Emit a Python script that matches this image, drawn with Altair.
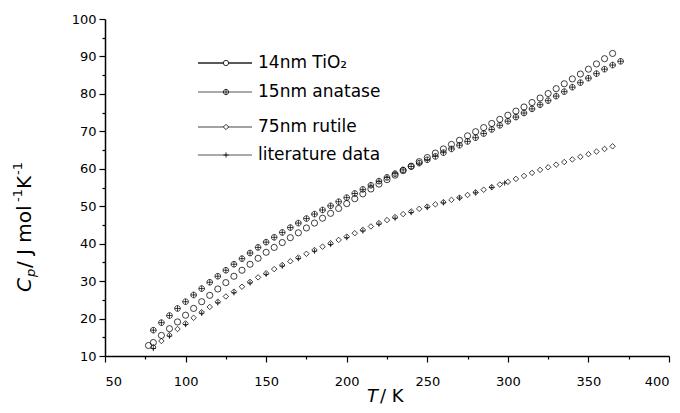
import altair as alt
import pandas as pd

# ---------------- data ----------------
t_14 = [77, 80, 85, 90, 95, 100, 105, 110, 115, 120, 125, 130, 135, 140, 145, 150,
        155, 160, 165, 170, 175, 180, 185, 190, 195, 200, 205, 210, 215, 220, 225,
        230, 235, 240, 245, 250, 255, 260, 265, 270, 275, 280, 285, 290, 295, 300,
        305, 310, 315, 320, 325, 330, 335, 340, 345, 350, 355, 360, 365]
cp_14 = [12.8, 13.6, 15.5, 17.3, 19.1, 20.9, 22.7, 24.5, 26.2, 27.9, 29.6, 31.3, 32.9,
         34.5, 36.1, 37.7, 39.0, 40.3, 41.6, 42.9, 44.2, 45.5, 46.8, 48.1, 49.4, 50.7,
         52.0, 53.3, 54.6, 55.9, 57.1, 58.3, 59.5, 60.7, 61.9, 63.0, 64.2, 65.3, 66.5,
         67.6, 68.8, 69.9, 71.0, 72.1, 73.2, 74.3, 75.4, 76.5, 77.7, 78.9, 80.1, 81.4,
         82.7, 84.0, 85.3, 86.6, 88.0, 89.4, 90.8]

t_15 = [80, 85, 90, 95, 100, 105, 110, 115, 120, 125, 130, 135, 140, 145, 150, 155,
        160, 165, 170, 175, 180, 185, 190, 195, 200, 205, 210, 215, 220, 225, 230,
        235, 240, 245, 250, 255, 260, 265, 270, 275, 280, 285, 290, 295, 300, 305,
        310, 315, 320, 325, 330, 335, 340, 345, 350, 355, 360, 365, 370]
cp_15 = [16.9, 18.9, 20.8, 22.7, 24.5, 26.3, 28.0, 29.7, 31.3, 32.9, 34.5, 36.0, 37.5,
         39.0, 40.4, 41.7, 43.0, 44.3, 45.5, 46.7, 47.9, 49.0, 50.1, 51.2, 52.3, 53.4,
         54.5, 55.6, 56.7, 57.7, 58.7, 59.7, 60.6, 61.5, 62.4, 63.3, 64.3, 65.3, 66.3,
         67.3, 68.3, 69.4, 70.5, 71.6, 72.7, 73.8, 74.9, 76.0, 77.1, 78.2, 79.4, 80.6,
         81.8, 83.0, 84.2, 85.4, 86.6, 87.7, 88.7]

t_75 = [80, 85, 90, 95, 100, 105, 110, 115, 120, 125, 130, 135, 140, 145, 150, 155,
        160, 165, 170, 175, 180, 185, 190, 195, 200, 205, 210, 215, 220, 225, 230,
        235, 240, 245, 250, 255, 260, 265, 270, 275, 280, 285, 290, 295, 300, 305,
        310, 315, 320, 325, 330, 335, 340, 345, 350, 355, 360, 365]
cp_75 = [12.4, 14.0, 15.6, 17.2, 18.7, 20.2, 21.7, 23.1, 24.5, 25.9, 27.2, 28.5, 29.8,
         31.0, 32.1, 33.2, 34.3, 35.3, 36.3, 37.3, 38.3, 39.2, 40.1, 41.0, 41.9, 42.8,
         43.7, 44.6, 45.5, 46.3, 47.1, 47.9, 48.6, 49.3, 49.9, 50.5, 51.1, 51.7, 52.3,
         53.0, 53.7, 54.4, 55.1, 55.8, 56.5, 57.3, 58.1, 58.9, 59.7, 60.4, 61.1, 61.8,
         62.5, 63.2, 63.9, 64.6, 65.3, 66.0]

t_lit = [80, 90, 100, 110, 120, 130, 140, 150, 160, 170, 180, 190, 200, 210, 220, 230,
         240, 250, 260, 270, 280, 290, 298]
cp_lit = [12.0, 15.3, 18.4, 21.4, 24.2, 26.9, 29.5, 31.8, 34.0, 36.0, 38.0, 39.8, 41.6,
          43.4, 45.2, 46.8, 48.3, 49.7, 50.9, 52.2, 53.6, 55.0, 56.2]

series_labels = ["14nm TiO₂", "15nm anatase", "75nm rutile", "literature data"]
x_ticks = [50, 75, 100, 125, 150, 175, 200, 225, 250, 275, 300, 325, 350, 375, 400]
y_ticks = [10, 15, 20, 25, 30, 35, 40, 45, 50, 55, 60, 65, 70, 75, 80, 85, 90, 95, 100]

# ---------------- styling ----------------
W, H = 564, 337
FONT = "DejaVu Sans"
SHAPE_CROSS_CIRCLE = "M-1,0A1,1 0 1,1 1,0A1,1 0 1,1 -1,0ZM-1,0L1,0M0,-1L0,1"
SHAPE_PLUS = "M0,-1L0,1M-1,0L1,0"

x_axis = alt.Axis(values=x_ticks, title=None, grid=False,
                  labelExpr="datum.value % 50 === 0 ? datum.label : ''",
                  tickSize={"condition": {"test": "datum.value % 50 === 0", "value": 6}, "value": 3},
                  labelPadding=13, labelFont=FONT, labelFontSize=13, labelColor="black",
                  domainColor="black", domainWidth=1.5, tickColor="black", tickWidth=1.2)
y_axis = alt.Axis(values=y_ticks, title=None, grid=False,
                  labelExpr="datum.value % 10 === 0 ? datum.label : ''",
                  tickSize={"condition": {"test": "datum.value % 10 === 0", "value": 6}, "value": 3},
                  labelPadding=3, labelFont=FONT, labelFontSize=13, labelColor="black",
                  domainColor="black", domainWidth=1.5, tickColor="black", tickWidth=1.2)

xs = alt.Scale(domain=[50, 400], nice=False, zero=False)
ys = alt.Scale(domain=[10, 100], nice=False, zero=False)


def series_layer(t, cp, shape, size):
    df = pd.DataFrame({"T": t, "Cp": cp})
    return alt.Chart(df).mark_point(shape=shape, size=size, filled=False,
                                    stroke="black", strokeWidth=0.75, opacity=1).encode(
        x=alt.X("T:Q", scale=xs, axis=x_axis),
        y=alt.Y("Cp:Q", scale=ys, axis=y_axis),
    )


layers = [
    series_layer(t_lit, cp_lit, SHAPE_PLUS, 28),
    series_layer(t_75, cp_75, "diamond", 30),
    series_layer(t_15, cp_15, SHAPE_CROSS_CIRCLE, 32),
    series_layer(t_14, cp_14, "circle", 38),
]

# ---------------- legend ----------------
legend_y = [44, 73, 108, 136]
legend_shape = ["circle", SHAPE_CROSS_CIRCLE, "diamond", SHAPE_PLUS]
legend_lw = [1.6, 1.0, 1.0, 1.0]
legend_col = ["#222222", "#555555", "#444444", "#555555"]
for lab, ly, shp, lw, col in zip(series_labels, legend_y, legend_shape, legend_lw, legend_col):
    one = pd.DataFrame({"label": [lab]})
    base = alt.Chart(one)
    layers.append(base.mark_rule(color=col, strokeWidth=lw).encode(
        x=alt.value(93), x2=alt.value(147), y=alt.value(ly)))
    layers.append(base.mark_point(shape=shp, size=28, filled=True, fill="white",
                                  stroke="black", strokeWidth=0.8, opacity=1).encode(
        x=alt.value(121), y=alt.value(ly)))
    layers.append(base.mark_text(align="left", baseline="middle", font=FONT,
                                 fontSize=17, color="black").encode(
        x=alt.value(153), y=alt.value(ly), text="label:N"))

# ---------------- axis titles ----------------
def txt(s, x, y, size, italic=False, angle=0):
    kw = dict(align="left", baseline="middle", font=FONT, fontSize=size, color="black")
    if italic:
        kw["fontStyle"] = "italic"
    if angle:
        kw["angle"] = angle
    return alt.Chart(pd.DataFrame({"s": [s]})).mark_text(**kw).encode(
        x=alt.value(x), y=alt.value(y), text="s:N")

# x title: "T / K"
layers.append(txt("T", 262, 378, 18, italic=True))
layers.append(txt(" / K", 275, 378, 18))

# y title: "Cp / J mol-1 K-1" (rotated, reading upward)
layers.append(txt("C", -80, 273, 20, italic=True, angle=270))
layers.append(txt("p", -74, 258, 13, italic=True, angle=270))
layers.append(txt(" / J mol", -80, 249, 20, angle=270))
layers.append(txt("-1", -87, 183, 13, angle=270))
layers.append(txt("K", -80, 170, 20, angle=270))
layers.append(txt("-1", -87, 156, 13, angle=270))

chart = alt.layer(*layers).properties(
    width=W, height=H,
    autosize=alt.AutoSizeParams(type="none"),
    padding={"left": 97, "top": 11, "right": 3, "bottom": 49},
    background="white",
).configure_view(stroke=None)

chart.save("out.html", embed_options={"renderer": "svg", "actions": False})
